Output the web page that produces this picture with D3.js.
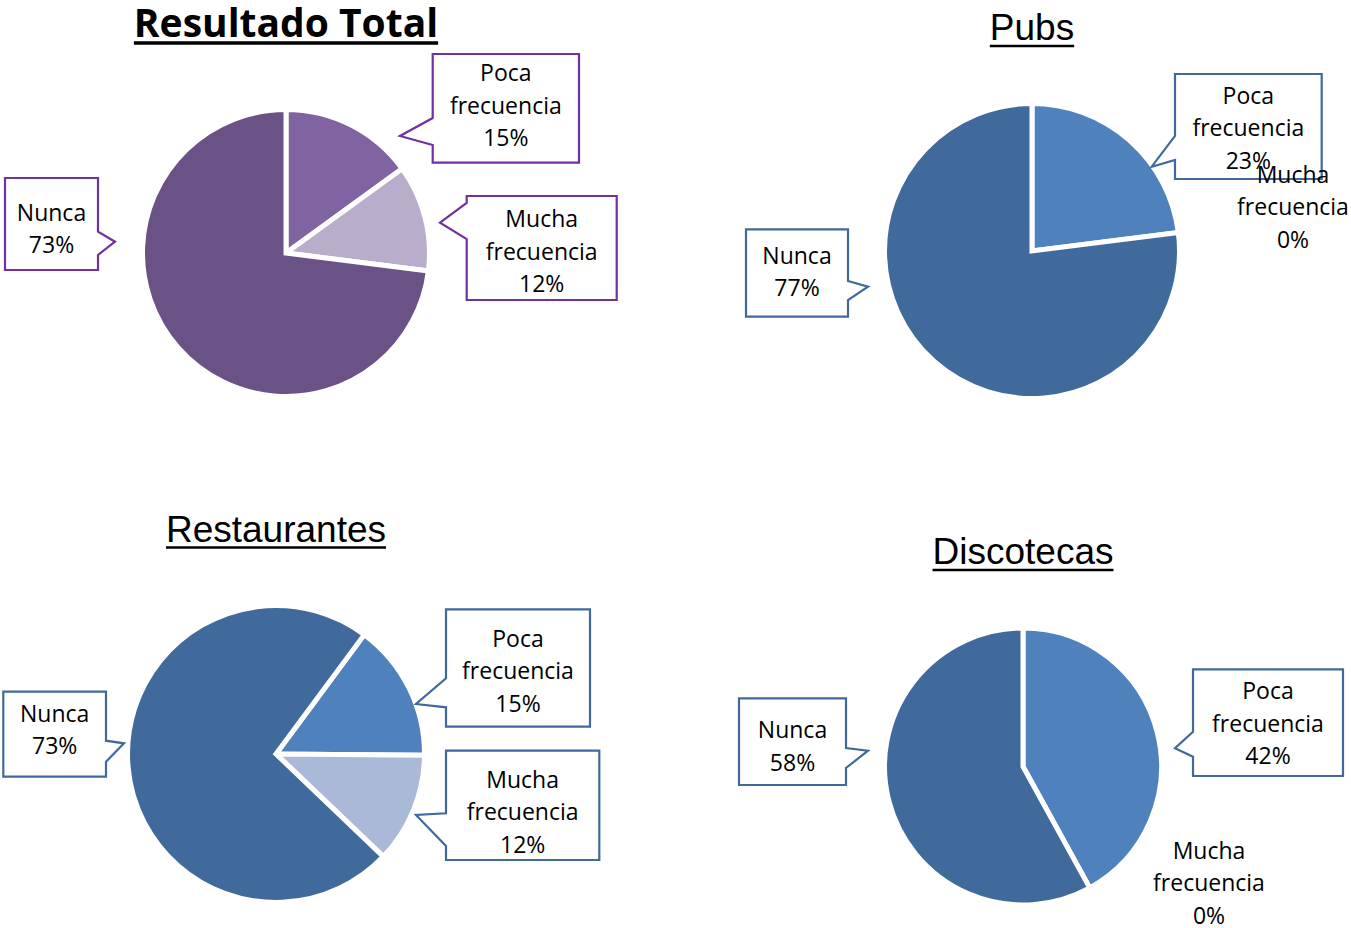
<!DOCTYPE html>
<html lang="es">
<head>
<meta charset="UTF-8">
<title>Frecuencia - gráficos de tarta</title>
<script src="https://cdn.jsdelivr.net/npm/d3@7"></script>
<style>
    body { margin: 0; background: #fff; }
    .callout text { font-family: "Open Sans", sans-serif; font-size: 23px; fill: #000; }
    .free-label text { font-family: "Open Sans", sans-serif; font-size: 23px; fill: #000; }
    .title-plain { font-family: "Liberation Sans", Arial, sans-serif; font-size: 37px; fill: #000; }
    .title-bold { font-family: "Open Sans", sans-serif; font-weight: bold; font-size: 39px; fill: #000; }
</style>
</head>
<body>
<div id="chart"></div>
<script>
// ---- data ----
var categories = ["Nunca", "Poca frecuencia", "Mucha frecuencia"];
var chartTitles = ["Resultado Total", "Pubs", "Restaurantes", "Discotecas"];
var totalValues = [73, 15, 12];
var pubsValues = [77, 23, 0];
var restaurantesValues = [73, 15, 12];
var discotecasValues = [58, 42, 0];
var allValues = [totalValues, pubsValues, restaurantesValues, discotecasValues];

// ---- layout ----
var width = 1351, height = 928;
var purplePalette = ["#6a5186", "#8064a2", "#b8aecb"];
var bluePalette = ["#416a9c", "#4f81bd", "#aab9d7"];

// order in which slices go round the pie (clockwise from startDeg)
var drawOrder = [1, 2, 0];

// callouts: box relative to pie center, pointer on "left"/"right" side
var layouts = [
    {
        cx: 286, cy: 253, r: 141, startDeg: 0, palette: purplePalette, border: "#7030a0",
        title: {cls: "title-bold", baseline: 37, line: 3.5, gap: 6},
        labels: [
            {box: [-281, -75, 93, 92], side: "right", a: -21.3, tip: [-171, -11.3], b: 2, dy: 4},
            {box: [146.7, -199, 146.3, 108.7], side: "left", a: -135, tip: [114, -117], b: -108, dy: -3.5},
            {box: [180.7, -57, 150, 104], side: "left", a: -50, tip: [154, -30.3], b: -14, dy: 2.6}
        ]
    },
    {
        cx: 1032, cy: 251, r: 145, startDeg: 0, palette: bluePalette, border: "#41699b",
        title: {cls: "title-plain", baseline: 40, line: 2.5, gap: 6},
        labels: [
            {box: [-286, -21.7, 102, 87.4], side: "right", a: 30, tip: [-164, 35.7], b: 49, dy: -2},
            {box: [143, -177, 146.7, 105], side: "left", a: -115, tip: [119.7, -84.3], b: -91, dy: 0.5},
            {text: [261, -45]}
        ]
    },
    {
        cx: 276, cy: 754, r: 146, startDeg: 36.5, palette: bluePalette, border: "#41699b",
        title: {cls: "title-plain", baseline: 541.5, line: 2.5, gap: 6},
        labels: [
            {box: [-272.7, -62.3, 102.7, 85], side: "right", a: -13.3, tip: [-152, -10.7], b: 7.7, dy: -5},
            {box: [170, -144.7, 144, 117.4], side: "left", a: -75.7, tip: [140, -50], b: -46.7, dy: 2},
            {box: [170, -3.3, 153.3, 109.3], side: "left", a: 59.3, tip: [140, 61], b: 92, dy: 6}
        ]
    },
    {
        cx: 1023, cy: 766.5, r: 136, startDeg: 0, palette: bluePalette, border: "#41699b",
        title: {cls: "title-plain", baseline: 564, line: 2.5, gap: 6},
        labels: [
            {box: [-284, -68.2, 107, 86.7], side: "right", a: -18.5, tip: [-155, -15.8], b: 1.5, dy: 4},
            {box: [170, -97.2, 150, 106.7], side: "left", a: -34.8, tip: [152, -18.2], b: -9.8, dy: 0},
            {text: [186, 115.5]}
        ]
    }
];
var lineStep = 32.5;

var svg = d3.select("#chart").append("svg")
    .attr("width", width)
    .attr("height", height);

function calloutPath(l) {
    var x0 = l.box[0], y0 = l.box[1], x1 = x0 + l.box[2], y1 = y0 + l.box[3];
    var p = d3.path();
    p.moveTo(x0, y0);
    p.lineTo(x1, y0);
    if (l.side === "right") {
        p.lineTo(x1, l.a);
        p.lineTo(l.tip[0], l.tip[1]);
        p.lineTo(x1, l.b);
        p.lineTo(x1, y1);
        p.lineTo(x0, y1);
    } else {
        p.lineTo(x1, y1);
        p.lineTo(x0, y1);
        p.lineTo(x0, l.b);
        p.lineTo(l.tip[0], l.tip[1]);
        p.lineTo(x0, l.a);
    }
    p.closePath();
    return p.toString();
}

function labelLines(values, k) {
    return categories[k].split(" ").concat([values[k] + "%"]);
}

function drawLines(g, lines, cy) {
    var n = lines.length;
    g.selectAll("text.line").data(lines).join("text")
        .attr("class", "line")
        .attr("x", 0)
        .attr("y", function(d, j) { return cy + (j - (n - 1) / 2) * lineStep; })
        .attr("text-anchor", "middle")
        .attr("dominant-baseline", "central")
        .text(function(d) { return d; });
}

allValues.forEach(function(values, i) {
    var lay = layouts[i];
    var g = svg.append("g")
        .attr("transform", "translate(" + lay.cx + "," + lay.cy + ")");

    var rows = drawOrder.map(function(k) {
        return {key: k, name: categories[k], value: values[k]};
    });

    var a0 = lay.startDeg * Math.PI / 180;
    var pie = d3.pie()
        .sort(null)
        .value(function(d) { return d.value; })
        .startAngle(a0)
        .endAngle(a0 + 2 * Math.PI);

    var arc = d3.arc().innerRadius(0).outerRadius(lay.r + 2.5);

    g.selectAll("path.slice")
        .data(pie(rows).filter(function(d) { return d.data.value > 0; }))
        .join("path")
        .attr("class", "slice")
        .attr("d", arc)
        .attr("fill", function(d) { return lay.palette[d.data.key]; })
        .attr("stroke", "#fff")
        .attr("stroke-width", 5)
        .attr("stroke-linejoin", "miter");

    // labels
    lay.labels.forEach(function(l, k) {
        var lines = labelLines(values, k);
        if (l.box) {
            var c = g.append("g").attr("class", "callout");
            c.append("path")
                .attr("d", calloutPath(l))
                .attr("fill", "#fff")
                .attr("stroke", lay.border)
                .attr("stroke-width", 2.2)
                .attr("stroke-linejoin", "miter");
            var t = c.append("g")
                .attr("transform", "translate(" + (l.box[0] + l.box[2] / 2) + ",0)");
            drawLines(t, lines, l.box[1] + l.box[3] / 2 + l.dy);
        } else {
            var f = g.append("g").attr("class", "free-label")
                .attr("transform", "translate(" + l.text[0] + ",0)");
            drawLines(f, lines, l.text[1]);
        }
    });

    // title with underline
    var title = svg.append("text")
        .attr("class", lay.title.cls)
        .attr("x", lay.cx)
        .attr("y", lay.title.baseline)
        .attr("text-anchor", "middle")
        .text(chartTitles[i]);
    var bb = title.node().getBBox();
    svg.append("rect")
        .attr("x", bb.x)
        .attr("y", lay.title.baseline + lay.title.gap - lay.title.line / 2)
        .attr("width", bb.width)
        .attr("height", lay.title.line)
        .attr("fill", "#000");
});
</script>
</body>
</html>
